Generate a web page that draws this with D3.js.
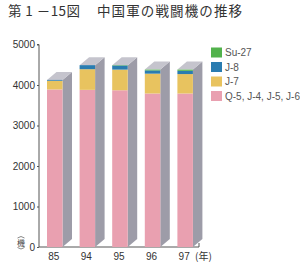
<!DOCTYPE html>
<html>
<head>
<meta charset="utf-8">
<script src="https://cdn.jsdelivr.net/npm/d3@7"></script>
<style>
  body { margin: 0; background: #fff; }
  svg { display: block; }
</style>
</head>
<body>
<div class="canvas"></div>
<script>
// chart values
const years = ['85', '94', '95', '96', '97'];
const q5 = [3890, 3880, 3870, 3790, 3790];   // Q-5, J-4, J-5, J-6
const j7 = [215, 510, 510, 490, 480];
const j8 = [20, 100, 100, 80, 80];
const su27 = [0, 0, 10, 20, 30];
const yTicks = [0, 1000, 2000, 3000, 4000, 5000];

const seriesNames = ['Q-5, J-4, J-5, J-6', 'J-7', 'J-8', 'Su-27'];
const seriesVals = [q5, j7, j8, su27];
const colors = ['#e9a0b0', '#e8c35f', '#2a7cb0', '#52b24c'];

// dims
const W = 300, H = 280;
const barW = 15.5, dx = 9.5, dy = 8;

const svg = d3.select('.canvas')
    .append('svg')
    .attr('width', W)
    .attr('height', H)
    .style('font-family', '"Liberation Sans", Arial, sans-serif');

// title
svg.append('text')
    .attr('x', 8).attr('y', 16)
    .attr('font-family', '"Noto Sans CJK JP", sans-serif')
    .attr('font-size', 13.5)
    .attr('fill', '#333')
    .attr('textLength', 72)
    .text('第 1 －15図');
svg.append('text')
    .attr('x', 97).attr('y', 16)
    .attr('font-family', '"Noto Sans CJK JP", sans-serif')
    .attr('font-size', 13.5)
    .attr('fill', '#333')
    .attr('textLength', 145)
    .text('中国軍の戦闘機の推移');

// scales
const y = d3.scaleLinear().domain([0, 5000]).range([247, 44.5]);
const x = d3.scalePoint().domain(years).range([54.75, 185.15]);

// stack the series
const table = years.map((yr, i) => {
    const row = { year: yr };
    seriesNames.forEach((n, k) => row[n] = seriesVals[k][i]);
    return row;
});
const stacked = d3.stack().keys(seriesNames)(table);

// y axis
const yAxis = svg.append('g')
    .attr('transform', 'translate(39,0)')
    .call(d3.axisLeft(y).tickValues(yTicks).tickSize(2).tickPadding(2).tickFormat(d3.format('d')));
yAxis.select('.domain').attr('stroke', '#555').attr('d', `M-2,${y(5000)}H0V${y(0)}`);
yAxis.selectAll('.tick line').attr('stroke', '#555');
yAxis.selectAll('.tick text')
    .attr('font-size', 10)
    .attr('font-family', '"Liberation Sans", Arial, sans-serif')
    .attr('fill', '#333');

// baseline
svg.append('path')
    .attr('d', `M39,${y(0)}H199V${y(0) - 4}`)
    .attr('fill', 'none')
    .attr('stroke', '#555')
    .attr('stroke-width', 1);

// bars
const bars = svg.append('g');
table.forEach((row, i) => {
    const x0 = x(row.year) - barW / 2;
    const total = d3.sum(seriesVals, s => s[i]);
    const top = y(total), bot = y(0);
    const g = bars.append('g');
    // side face
    g.append('path')
        .attr('d', `M${x0 + barW},${top}L${x0 + barW + dx},${top - dy}L${x0 + barW + dx},${bot - dy}L${x0 + barW},${bot}Z`)
        .attr('fill', '#9d9ca8');
    // top face
    g.append('path')
        .attr('d', `M${x0},${top}L${x0 + dx},${top - dy}L${x0 + barW + dx},${top - dy}L${x0 + barW},${top}Z`)
        .attr('fill', '#c5c4cd');
    // stacked front segments
    stacked.forEach((layer, k) => {
        const d = layer[i];
        if (d[1] - d[0] <= 0) return;
        g.append('rect')
            .attr('x', x0)
            .attr('y', y(d[1]))
            .attr('width', barW)
            .attr('height', y(d[0]) - y(d[1]))
            .attr('fill', colors[k]);
    });
});

// x labels
svg.append('g').selectAll('text')
    .data(years)
    .join('text')
    .attr('x', d => x(d) - 1)
    .attr('y', 260)
    .attr('text-anchor', 'middle')
    .attr('font-size', 10)
    .attr('fill', '#333')
    .text(d => d);

svg.append('text')
    .attr('x', 195).attr('y', 260)
    .attr('font-family', '"Noto Sans CJK JP", sans-serif')
    .attr('font-size', 10)
    .attr('fill', '#333')
    .text('(年)');

// unit label, with small vertical brackets
svg.append('text')
    .attr('x', 21).attr('y', 246)
    .attr('text-anchor', 'middle')
    .attr('font-family', '"Noto Sans CJK JP", sans-serif')
    .attr('font-size', 8)
    .attr('fill', '#444')
    .text('機');
svg.append('path')
    .attr('d', 'M17.5,238Q21,235 24.5,238M17.5,247.5Q21,250.5 24.5,247.5')
    .attr('fill', 'none')
    .attr('stroke', '#555')
    .attr('stroke-width', 0.7);

// legend
const legendOrder = [3, 2, 1, 0];
const legend = svg.append('g');
legendOrder.forEach((k, j) => {
    const cy = 52.5 + j * 14.5;
    legend.append('rect')
        .attr('x', 211).attr('y', cy - 5)
        .attr('width', 11).attr('height', 10)
        .attr('fill', colors[k]);
    legend.append('text')
        .attr('x', 225).attr('y', cy + 3.5)
        .attr('font-size', 10)
        .attr('fill', '#555')
        .text(seriesNames[k]);
});
</script>
</body>
</html>
